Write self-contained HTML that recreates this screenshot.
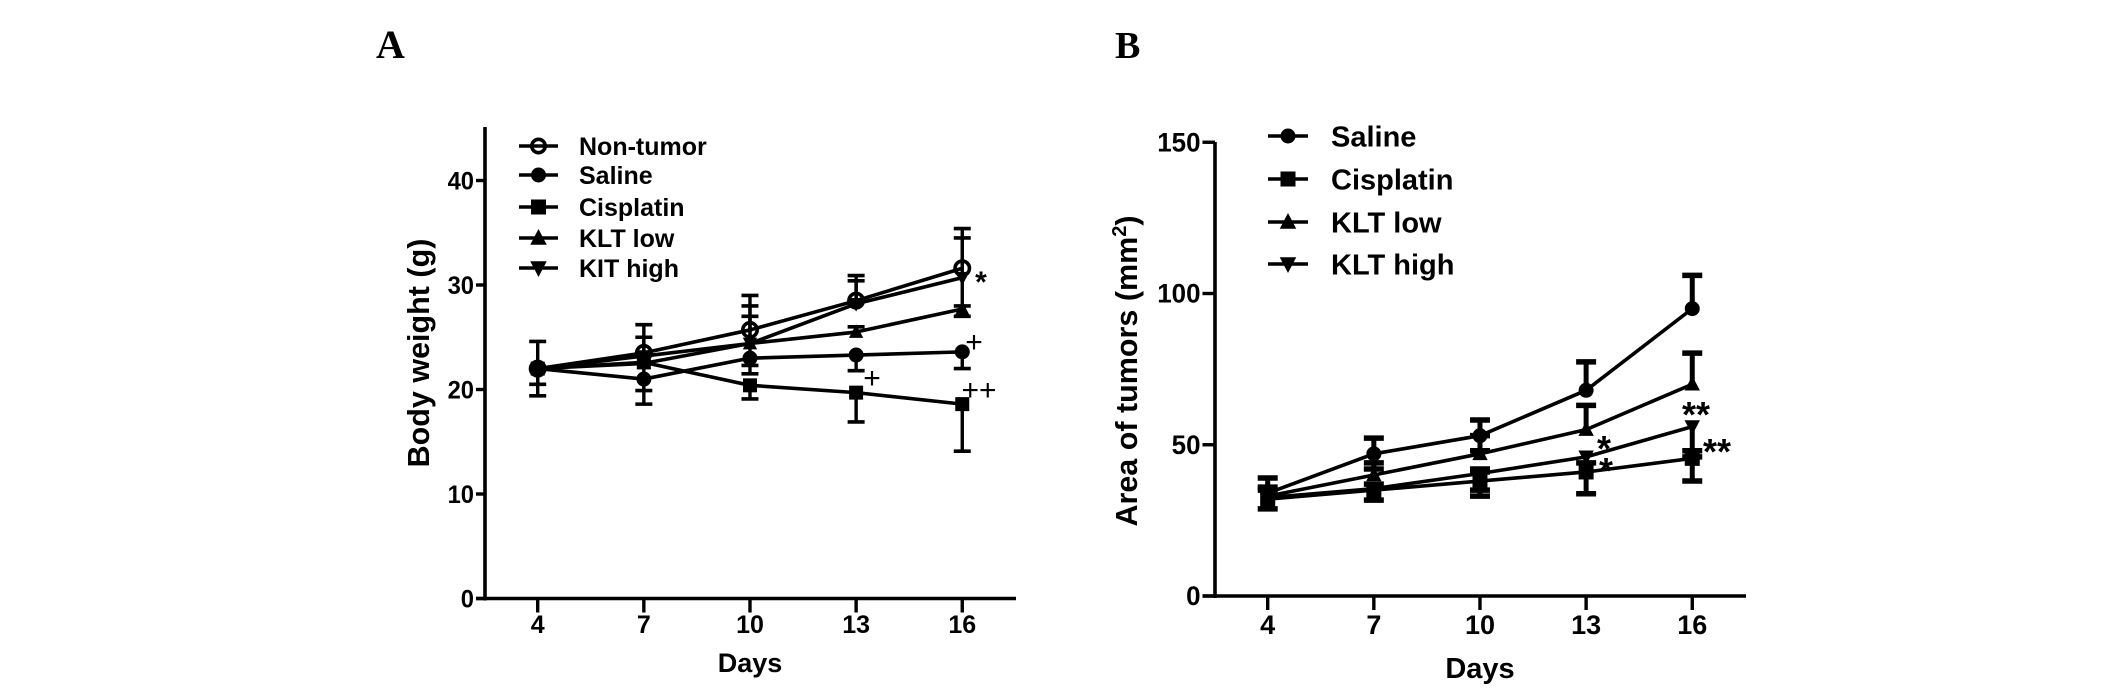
<!DOCTYPE html>
<html lang="en">
<head>
<meta charset="utf-8">
<title>Body weight and tumor area charts</title>
<style>
html,body{margin:0;padding:0;background:#fff;}
svg{display:block;}
text{font-family:"Liberation Sans",sans-serif;font-weight:bold;fill:#000;}
</style>
</head>
<body>
<svg id="fig" xmlns="http://www.w3.org/2000/svg" width="2126" height="696" viewBox="0 0 2126 696"></svg>
<script>
var days = [4, 7, 10, 13, 16];

var weightTicks = [0, 10, 20, 30, 40];
var weightNonTumor = [22, 23.5, 25.7, 28.5, 31.6];
var weightNonTumorHigh = [24.6, 26.2, 29.0, 30.9, 35.4];
var weightNonTumorLow = [null, null, null, null, null];
var weightSaline = [22, 21, 23, 23.3, 23.6];
var weightSalineHigh = [null, null, null, null, null];
var weightSalineLow = [20.5, 18.6, 21.5, 21.8, 22];
var weightCisplatin = [22, 22.6, 20.4, 19.7, 18.6];
var weightCisplatinHigh = [null, null, null, null, null];
var weightCisplatinLow = [19.4, 19.9, 19.1, 16.9, 14.1];
var weightKltLow = [22, 22.5, 24.4, 25.5, 27.7];
var weightKltLowHigh = [null, 25, 27, 26, 28];
var weightKltLowLow = [null, null, 22.3, null, null];
var weightKitHigh = [22, 23.2, 24.4, 28.2, 30.7];
var weightKitHighHigh = [null, null, 28, 30.4, 34.5];
var weightKitHighLow = [null, null, null, null, 27];

var areaTicks = [0, 50, 100, 150];
var areaSaline = [34, 47, 53, 68, 95];
var areaSalineHigh = [39, 52.2, 58.2, 77.4, 106];
var areaSalineLow = [null, 42, 48, null, null];
var areaCisplatin = [32, 35, 38, 41, 45.5];
var areaCisplatinHigh = [35, 37, 41, 44, 48];
var areaCisplatinLow = [28.8, 31.7, 33, 33.8, 38];
var areaKltLow = [33, 40, 47, 55, 70];
var areaKltLowHigh = [36, 44, 53, 63, 80.3];
var areaKltLowLow = [null, null, null, null, null];
var areaKltHigh = [32.5, 35.5, 40.5, 46, 56];
var areaKltHighHigh = [null, null, 42, null, null];
var areaKltHighLow = [null, null, 35, null, 46];

var NS = 'http://www.w3.org/2000/svg';
var svg = document.getElementById('fig');

function make(tag, attrs, parent) {
  var el = document.createElementNS(NS, tag);
  for (var k in attrs) { el.setAttribute(k, attrs[k]); }
  parent.appendChild(el);
  return el;
}

function label(txt, x, y, size, anchor, parent, name) {
  var t = make('text', {x: x, y: y, 'font-size': size, 'text-anchor': anchor}, parent);
  t.textContent = txt;
  
  
  return t;
}

function marker(kind, x, y, s, parent, name) {
  var el;
  if (kind === 'open') {
    el = make('circle', {cx: x, cy: y, r: s * 0.5 - 1.8, fill: 'none', stroke: '#000', 'stroke-width': 3.6}, parent);
  } else if (kind === 'circle') {
    el = make('circle', {cx: x, cy: y, r: s * 0.5, fill: '#000'}, parent);
  } else if (kind === 'square') {
    el = make('rect', {x: x - s * 0.5, y: y - s * 0.5, width: s, height: s, fill: '#000'}, parent);
  } else if (kind === 'up') {
    el = make('path', {d: 'M' + (x - s * 0.55) + ' ' + (y + s * 0.45) + 'L' + (x + s * 0.55) + ' ' + (y + s * 0.45) + 'L' + x + ' ' + (y - s * 0.6) + 'Z', fill: '#000'}, parent);
  } else {
    el = make('path', {d: 'M' + (x - s * 0.55) + ' ' + (y - s * 0.45) + 'L' + (x + s * 0.55) + ' ' + (y - s * 0.45) + 'L' + x + ' ' + (y + s * 0.6) + 'Z', fill: '#000'}, parent);
  }
  
  
  return el;
}

function drawSeries(panel, s, cfg) {
  var g = make('g', {}, panel);
  
  
  var pts = [];
  for (var i = 0; i < days.length; i++) {
    var x = cfg.x(days[i]);
    var y = cfg.y(s.values[i]);
    pts.push(x + ',' + y);
    var ends = [s.high[i], s.low[i]];
    for (var j = 0; j < 2; j++) {
      if (ends[j] === null) { continue; }
      var ye = cfg.y(ends[j]);
      var bar = make('line', {x1: x, x2: x, y1: y, y2: ye, stroke: '#000', 'stroke-width': cfg.barW}, g);
      
      
      var cap = make('line', {x1: x - cfg.capW / 2, x2: x + cfg.capW / 2, y1: ye, y2: ye, stroke: '#000', 'stroke-width': cfg.capT}, g);
      
      
    }
  }
  var line = make('polyline', {points: pts.join(' '), fill: 'none', stroke: '#000', 'stroke-width': cfg.lineW, 'stroke-linejoin': 'round'}, g);
  
  
  for (var m = 0; m < days.length; m++) {
    marker(s.kind, cfg.x(days[m]), cfg.y(s.values[m]), s.size, g, s.name + '-point');
  }
}

function drawAxes(panel, cfg, ticks) {
  var ya = make('line', {x1: cfg.axisX, x2: cfg.axisX, y1: cfg.axisTop, y2: cfg.y(0) + 2, stroke: '#000', 'stroke-width': 3.6}, panel);
  
  
  var xa = make('line', {x1: cfg.axisX - cfg.tickY, x2: cfg.axisRight, y1: cfg.y(0), y2: cfg.y(0), stroke: '#000', 'stroke-width': 3.6}, panel);
  
  
  for (var i = 0; i < ticks.length; i++) {
    var ty = cfg.y(ticks[i]);
    var tk = make('line', {x1: cfg.axisX - cfg.tickY, x2: cfg.axisX, y1: ty, y2: ty, stroke: '#000', 'stroke-width': 3.4}, panel);
    
    
    var yl = label(String(ticks[i]), 0, 0, cfg.tickFont, 'end', panel, 'y-tick-label');
    yl.setAttribute('transform', 'translate(' + (cfg.axisX - cfg.tickY - 2) + ' ' + (ty + 9) + ') scale(' + cfg.yTickScale + ' 1)');
  }
  for (var d = 0; d < days.length; d++) {
    var tx = cfg.x(days[d]);
    var xt = make('line', {x1: tx, x2: tx, y1: cfg.y(0), y2: cfg.y(0) + 14, stroke: '#000', 'stroke-width': 3.4}, panel);
    
    
    label(String(days[d]), tx, cfg.xLabelY, cfg.tickFont, 'middle', panel, 'x-tick-label');
  }
  label('Days', cfg.x(10), cfg.xTitleY, cfg.titleFont, 'middle', panel, 'x-axis-title');
}

function drawLegend(panel, items, lx1, lx2, tx, ys, font, lineW, msize) {
  var g = make('g', {}, panel);
  
  
  for (var i = 0; i < items.length; i++) {
    var e = make('g', {}, g);
    
    
    var ln = make('line', {x1: lx1, x2: lx2, y1: ys[i], y2: ys[i], stroke: '#000', 'stroke-width': lineW}, e);
    
    
    var ms = items[i][1] === 'open' ? msize + 2 : msize;
    marker(items[i][1], (lx1 + lx2) / 2, ys[i], ms, e, 'legend-marker');
    label(items[i][0], tx, ys[i] + font * 0.36, font, 'start', e, 'legend-label');
  }
}

function note(txt, x, cy, size, panel, name) {
  var off = txt.charAt(0) === '*' ? 0.56 : 0.33;
  var t = label(txt, x, cy + size * off, size, 'middle', panel, name);
  if (txt.charAt(0) === '+') { t.style.fontWeight = 'normal'; }
  return t;
}

/* Panel A */
var panelA = make('g', {}, svg);


var cfgA = {
  x: function (d) { return 537.7 + (d - 4) * 35.38; },
  y: function (v) { return 598.5 - v * 10.45; },
  axisX: 485, axisTop: 127, axisRight: 1016, tickY: 9,
  xLabelY: 633, xTitleY: 672, tickFont: 25, titleFont: 27, yTickScale: 0.95,
  barW: 3.4, capW: 17, capT: 3.6, lineW: 3.6
};
var panelLabelA = make('text', {x: 376, y: 58, 'font-size': 40}, panelA);
panelLabelA.textContent = 'A';
panelLabelA.style.fontFamily = '"Liberation Serif",serif';


drawAxes(panelA, cfgA, weightTicks);
var titleA = label('Body weight (g)', 0, 0, 30.5, 'middle', panelA, 'y-axis-title');
titleA.setAttribute('transform', 'translate(429 353) rotate(-90)');
var seriesA = [
  {name: 'non-tumor', kind: 'open', size: 18, values: weightNonTumor, high: weightNonTumorHigh, low: weightNonTumorLow},
  {name: 'saline', kind: 'circle', size: 15, values: weightSaline, high: weightSalineHigh, low: weightSalineLow},
  {name: 'cisplatin', kind: 'square', size: 14, values: weightCisplatin, high: weightCisplatinHigh, low: weightCisplatinLow},
  {name: 'klt-low', kind: 'up', size: 13, values: weightKltLow, high: weightKltLowHigh, low: weightKltLowLow},
  {name: 'kit-high', kind: 'down', size: 13, values: weightKitHigh, high: weightKitHighHigh, low: weightKitHighLow}
];
for (var a = 0; a < seriesA.length; a++) { drawSeries(panelA, seriesA[a], cfgA); }
drawLegend(panelA, [['Non-tumor', 'open'], ['Saline', 'circle'], ['Cisplatin', 'square'], ['KLT low', 'up'], ['KIT high', 'down']],
  519, 558, 579, [146, 175, 207, 238, 268], 25, 3.4, 15);
note('*', 981, 275, 30, panelA, 'significance-mark');
note('+', 974, 342, 30, panelA, 'significance-mark');
note('+', 872, 378, 30, panelA, 'significance-mark');
note('++', 979, 390, 30, panelA, 'significance-mark');

/* Panel B */
var panelB = make('g', {}, svg);


var cfgB = {
  x: function (d) { return 1267.7 + (d - 4) * 35.38; },
  y: function (v) { return 596 - v * 3.025; },
  axisX: 1215, axisTop: 142, axisRight: 1746, tickY: 12.5,
  xLabelY: 634, xTitleY: 678, tickFont: 27, titleFont: 29, yTickScale: 0.96,
  barW: 5, capW: 20, capT: 5.5, lineW: 3.6
};
var panelLabelB = make('text', {x: 1115, y: 58, 'font-size': 38}, panelB);
panelLabelB.textContent = 'B';
panelLabelB.style.fontFamily = '"Liberation Serif",serif';


drawAxes(panelB, cfgB, areaTicks);
var titleB = label('', 0, 0, 30.5, 'middle', panelB, 'y-axis-title');
titleB.setAttribute('transform', 'translate(1137 371) rotate(-90)');
titleB.appendChild(document.createTextNode('Area of tumors (mm'));
var sup = make('tspan', {dy: -11, 'font-size': 20}, titleB);
sup.textContent = '2';


var closing = make('tspan', {dy: 11}, titleB);
closing.textContent = ')';


var seriesB = [
  {name: 'saline', kind: 'circle', size: 15, values: areaSaline, high: areaSalineHigh, low: areaSalineLow},
  {name: 'cisplatin', kind: 'square', size: 15, values: areaCisplatin, high: areaCisplatinHigh, low: areaCisplatinLow},
  {name: 'klt-low', kind: 'up', size: 14, values: areaKltLow, high: areaKltLowHigh, low: areaKltLowLow},
  {name: 'klt-high', kind: 'down', size: 14, values: areaKltHigh, high: areaKltHighHigh, low: areaKltHighLow}
];
for (var b = 0; b < seriesB.length; b++) { drawSeries(panelB, seriesB[b], cfgB); }
drawLegend(panelB, [['Saline', 'circle'], ['Cisplatin', 'square'], ['KLT low', 'up'], ['KLT high', 'down']],
  1268, 1308, 1331, [136, 179, 222, 264], 29, 3.6, 15);
note('*', 1604, 441, 36, panelB, 'significance-mark');
note('*', 1606, 463, 36, panelB, 'significance-mark');
note('**', 1696, 407, 36, panelB, 'significance-mark');
note('**', 1717, 444, 36, panelB, 'significance-mark');
</script>
</body>
</html>
